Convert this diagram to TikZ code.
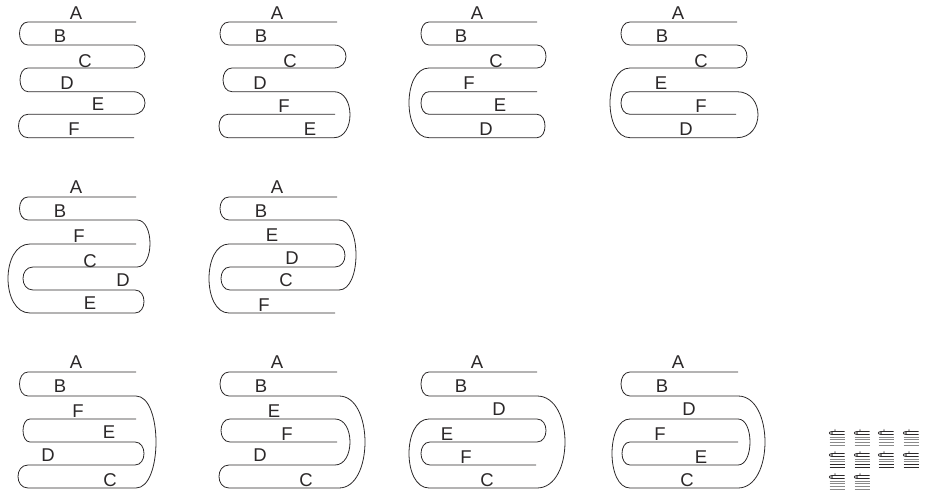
\documentclass[tikz,border=0pt]{standalone}
\usepackage{fontspec}
\setmainfont{Liberation Sans}
\definecolor{ink}{HTML}{2B2829}
\definecolor{pale}{HTML}{8A8A8A}
\tikzset{
  strip/.style={draw=ink,line width=0.8pt,line join=round,fill=none},
  lbl/.style={text=ink,inner sep=0pt,font=\fontsize{18.5}{19}\selectfont},
  tinylbl/.style={text=ink,inner sep=0pt,font=\fontsize{3}{3}\selectfont},
  tline/.style={draw=#1,line width=1pt},
}
% U-turn from (x,y1) to (x,y2) whose outermost point is at x = b
\newcommand\bend[4]{.. controls ({#1+(#3-#1)*1.333},#2) and ({#1+(#3-#1)*1.333},#4) .. (#1,#4)}
\newcommand\lab[4]{\node[lbl] (\pfx-#1) at (#2,#3) {#1};}
\def\pfx{m}
\newcommand\figI{
  \draw[strip] (136,22) -- (28,22) \bend{28}{22}{19.5}{45} -- (133,45) \bend{133}{45}{145}{68} -- (28,68) \bend{28}{68}{20}{91.7} -- (133,91.7) \bend{133}{91.7}{145}{114.3} -- (28,114.3) \bend{28}{114.3}{18.5}{137.7} -- (134,137.7);
  \lab{A}{76}{13}{}\lab{B}{60}{36}{}\lab{C}{85}{61}{}\lab{D}{67}{83}{}\lab{E}{98}{104}{}\lab{F}{74}{129}{}}
\newcommand\figII{
  \draw[strip] (337,22) -- (229,22) \bend{229}{22}{220}{45} -- (334,45) \bend{334}{45}{346}{68} -- (232,68) \bend{232}{68}{223}{91.7} -- (334,91.7) \bend{334}{91.7}{350}{137.7} -- (228,137.7) \bend{228}{137.7}{219}{114.3} -- (335,114.3);
  \lab{A}{277}{13}{}\lab{B}{261}{36}{}\lab{C}{290}{61}{}\lab{D}{260}{83}{}\lab{F}{284}{106}{}\lab{E}{310}{129}{}}
\newcommand\figIII{
  \draw[strip] (537,22) -- (429,22) \bend{429}{22}{421}{45} -- (537,45) \bend{537}{45}{546}{68} -- (429,68) \bend{429}{68}{409}{137.7} -- (537,137.7) \bend{537}{137.7}{545}{114.3} -- (429,114.3) \bend{429}{114.3}{421}{91.7} -- (537,91.7);
  \lab{A}{477}{13}{}\lab{B}{461}{36}{}\lab{C}{496}{61}{}\lab{F}{469}{83}{}\lab{E}{500}{105}{}\lab{D}{486}{129}{}}
\newcommand\figIV{
  \draw[strip] (737,22) -- (630,22) \bend{630}{22}{621}{45} -- (737,45) \bend{737}{45}{747}{68} -- (630,68) \bend{630}{68}{610}{137.7} -- (737,137.7) \bend{737}{137.7}{758}{91.7} -- (630,91.7) \bend{630}{91.7}{621}{114.3} -- (736,114.3);
  \lab{A}{678}{13}{}\lab{B}{662}{36}{}\lab{C}{701}{61}{}\lab{E}{661}{83}{}\lab{F}{701}{106}{}\lab{D}{686}{129}{}}
\newcommand\figV{
  \draw[strip] (136,197) -- (28,197) \bend{28}{197}{19.5}{220} -- (137,220) \bend{137}{220}{150}{267} -- (33,267) \bend{33}{267}{23}{290} -- (135,290) \bend{135}{290}{144}{313} -- (30,313) \bend{30}{313}{8}{244} -- (136,244);
  \lab{A}{76}{187}{}\lab{B}{60}{211}{}\lab{F}{79}{236}{}\lab{C}{90}{261}{}\lab{D}{123}{280}{}\lab{E}{90}{303}{}}
\newcommand\figVI{
  \draw[strip] (337,197) -- (229,197) \bend{229}{197}{220}{220} -- (339,220) \bend{339}{220}{356}{290} -- (230,290) \bend{230}{290}{221}{267} -- (335,267) \bend{335}{267}{345}{244} -- (229,244) \bend{229}{244}{209}{313} -- (335,313);
  \lab{A}{277}{187}{}\lab{B}{261}{211}{}\lab{E}{272}{235}{}\lab{D}{292}{258}{}\lab{C}{286}{280}{}\lab{F}{264}{305}{}}
\newcommand\figVII{
  \draw[strip] (136,372) -- (28,372) \bend{28}{372}{19.5}{396} -- (136,396) \bend{136}{396}{156}{488} -- (28,488) \bend{28}{488}{18}{465} -- (135,465) \bend{135}{465}{144}{442} -- (30,442) \bend{30}{442}{23}{419} -- (136,419);
  \lab{A}{76}{362}{}\lab{B}{60}{386}{}\lab{F}{78}{411}{}\lab{E}{109}{432}{}\lab{D}{48}{455}{}\lab{C}{110}{480}{}}
\newcommand\figVIII{
  \draw[strip] (337,372) -- (229,372) \bend{229}{372}{220}{396} -- (339,396) \bend{339}{396}{365}{488} -- (229,488) \bend{229}{488}{219}{465} -- (335,465) \bend{335}{465}{350}{419} -- (230,419) \bend{230}{419}{221}{442} -- (337,442);
  \lab{A}{277}{362}{}\lab{B}{261}{386}{}\lab{E}{274}{411}{}\lab{F}{287}{434}{}\lab{D}{260}{455}{}\lab{C}{306}{480}{}}
\newcommand\figIX{
  \draw[strip] (537,372) -- (429,372) \bend{429}{372}{421}{396} -- (537,396) \bend{537}{396}{565}{488} -- (429,488) \bend{429}{488}{409}{419} -- (537,419) \bend{537}{419}{546}{442} -- (430,442) \bend{430}{442}{421}{465} -- (536,465);
  \lab{A}{477}{362}{}\lab{B}{461}{386}{}\lab{D}{499}{409}{}\lab{E}{447}{434}{}\lab{F}{466}{457}{}\lab{C}{487}{480}{}}
\newcommand\figX{
  \draw[strip] (738,372) -- (630,372) \bend{630}{372}{621}{396} -- (738,396) \bend{738}{396}{765}{488} -- (630,488) \bend{630}{488}{612}{419} -- (738,419) \bend{738}{419}{750}{465} -- (630,465) \bend{630}{465}{622}{442} -- (738,442);
  \lab{A}{678}{362}{}\lab{B}{662}{386}{}\lab{D}{689}{409}{}\lab{F}{660}{434}{}\lab{E}{701}{457}{}\lab{C}{687}{480}{}}
% miniature: prefix, left x, top y (pixel grid), colour of the two lowest lines
\newcommand\thumb[4]{\begin{scope}[shift={(#2,#3)}]
  \node[tinylbl] (#1-A) at (6,0) {A};
  \draw[tline=ink,line width=0.8pt] (15.5,1.5) -- (3,1.5) .. controls (-0.5,1.5) and (-0.5,4.5) .. (3,4.5) -- (15.5,4.5);
  \fill[pale] (1.5,2.3) rectangle (3.6,3.7);
  \draw[tline=pale] (0.5,7) -- (15.5,7);
  \draw[tline=pale] (0.5,9.5) -- (15.5,9.5);
  \draw[tline=#4] (0.5,12.5) -- (15.5,12.5);
  \draw[tline=#4] (0.5,15.5) -- (15.5,15.5);
\end{scope}}
\begin{document}
\begin{tikzpicture}[x=1pt,y=-1pt]
\useasboundingbox (0,0) rectangle (934,494);
\figI\def\pfx{b}\figII\def\pfx{c}\figIII\def\pfx{d}\figIV\def\pfx{e}\figV\def\pfx{f}\figVI\def\pfx{g}\figVII\def\pfx{h}\figVIII\def\pfx{i}\figIX\def\pfx{j}\figX
\thumb{ta}{829}{430}{pale}
\thumb{tb}{854}{430}{pale}
\thumb{tc}{878}{430}{pale}
\thumb{td}{903}{430}{pale}
\thumb{te}{829}{452}{ink}
\thumb{tf}{854}{452}{ink}
\thumb{tg}{878}{452}{ink}
\thumb{th}{903}{452}{ink}
\thumb{ti}{829}{474}{pale}
\thumb{tj}{854}{474}{pale}
\end{tikzpicture}
\end{document}
